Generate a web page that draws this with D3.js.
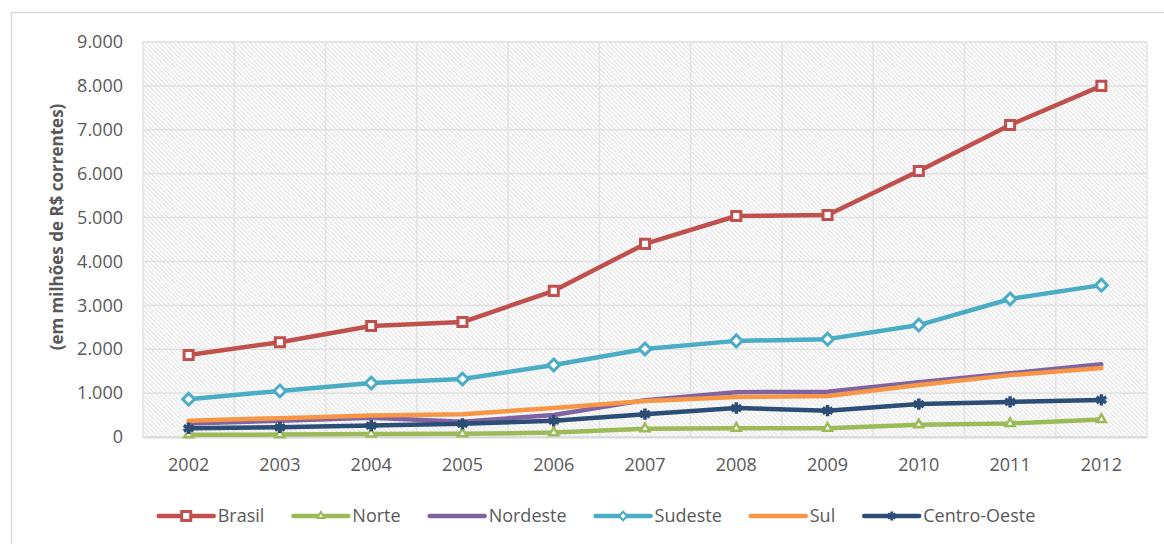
<!doctype html>
<html lang="pt">
<head>
  <meta charset="utf-8">
  <title>Valores por região, 2002-2012</title>
  <script src="https://d3js.org/d3.v7.min.js"></script>
<style>
body {
  margin: 0;
  background: #fff;
}
svg text {
  font-family: "Open Sans", "Liberation Sans", sans-serif;
  fill: #595959;
}
</style>
</head>
<body>
<div class="chart"></div>

<script>
  // values (em milhões de R$ correntes)
  const years = ['2002', '2003', '2004', '2005', '2006', '2007', '2008', '2009', '2010', '2011', '2012'];
  const brasil = [1870, 2160, 2530, 2620, 3330, 4400, 5035, 5060, 6060, 7110, 8000];
  const norte = [50, 55, 70, 75, 100, 190, 200, 200, 280, 310, 400];
  const nordeste = [310, 370, 440, 350, 500, 840, 1020, 1030, 1250, 1450, 1660];
  const sudeste = [860, 1050, 1230, 1320, 1640, 2005, 2190, 2230, 2550, 3145, 3460];
  const sul = [370, 430, 490, 520, 660, 820, 910, 935, 1185, 1410, 1570];
  const centroOeste = [200, 220, 260, 300, 370, 520, 660, 600, 750, 800, 845];
  const yTicks = [0, 1000, 2000, 3000, 4000, 5000, 6000, 7000, 8000, 9000];

  const seriesNames = ['Brasil', 'Norte', 'Nordeste', 'Sudeste', 'Sul', 'Centro-Oeste'];
  const seriesValues = [brasil, norte, nordeste, sudeste, sul, centroOeste];
  const seriesColors = ['#C0504D', '#9BBB59', '#8064A2', '#4BACC6', '#F79646', '#2C4D75'];
  const seriesMarkers = ['square', 'triangle', null, 'diamond', null, 'star'];

  const w = 1164, h = 544;
  const plot = {left: 143, right: 1147, top: 42, bottom: 437};

  let svg = d3.select('.chart').append('svg')
    .attr('width', w)
    .attr('height', h);

  // outer chart frame (runs off the bottom/right of the picture)
  svg.append('rect')
    .attr('x', 11.5).attr('y', 12.5)
    .attr('width', 1160).attr('height', 540)
    .attr('fill', 'none')
    .attr('stroke', '#D9D9D9')
    .attr('stroke-width', 1.5);

  // light diagonal hatch for the plot area
  let pattern = svg.append('defs').append('pattern')
    .attr('id', 'hatch')
    .attr('patternUnits', 'userSpaceOnUse')
    .attr('width', 4.5).attr('height', 4.5);
  pattern.append('rect').attr('width', 4.5).attr('height', 4.5).attr('fill', '#fff');
  pattern.append('path')
    .attr('d', 'M-1,-1 L5.5,5.5 M-1,3.5 L1,5.5 M3.5,-1 L5.5,1')
    .attr('stroke', '#DEDEDE')
    .attr('stroke-width', 1);

  let x = d3.scaleBand()
    .domain(years)
    .range([plot.left, plot.right])
    .padding(0);

  let y = d3.scaleLinear()
    .domain([0, 9000])
    .range([plot.bottom, plot.top]);

  let cx = d => x(d) + x.bandwidth() / 2;

  svg.append('rect')
    .attr('x', plot.left).attr('y', plot.top)
    .attr('width', plot.right - plot.left)
    .attr('height', plot.bottom - plot.top)
    .attr('fill', 'url(#hatch)')
    .attr('stroke', '#E3E3E3')
    .attr('stroke-width', 1.5);

  // gridlines
  let grid = svg.append('g').attr('stroke', '#E3E3E3').attr('stroke-width', 1.6);
  grid.selectAll('line.h')
    .data(yTicks)
    .enter()
    .append('line')
    .attr('class', 'h')
    .attr('x1', plot.left).attr('x2', plot.right)
    .attr('y1', d => y(d)).attr('y2', d => y(d));
  grid.selectAll('line.v')
    .data(years.slice(1))
    .enter()
    .append('line')
    .attr('class', 'v')
    .attr('x1', d => x(d)).attr('x2', d => x(d))
    .attr('y1', plot.top).attr('y2', plot.bottom);

  // y axis (labels only)
  let yAxis = svg.append('g')
    .attr('transform', 'translate(' + plot.left + ',0)')
    .call(d3.axisLeft(y)
      .tickValues(yTicks)
      .tickSize(0)
      .tickPadding(20)
      .tickFormat(d => d3.format(',')(d).replace(/,/g, '.')));
  yAxis.select('.domain').remove();
  yAxis.selectAll('text')
    .style('font-size', '18px')
    .attr('fill', '#595959');

  // x axis
  let xAxis = svg.append('g')
    .attr('transform', 'translate(0,' + plot.bottom + ')')
    .call(d3.axisBottom(x).tickSize(0).tickPadding(21));
  xAxis.select('.domain')
    .attr('stroke', '#D9D9D9')
    .attr('stroke-width', 2);
  xAxis.selectAll('text')
    .style('font-size', '18px')
    .attr('fill', '#595959');

  // y axis title
  svg.append('text')
    .attr('transform', 'translate(63,227) rotate(-90)')
    .attr('text-anchor', 'middle')
    .style('font-size', '17px')
    .style('font-weight', 'bold')
    .text('(em milhões de R$ correntes)');

  function marker(type) {
    if (type === 'square') return d3.symbol(d3.symbolSquare, 82)();
    if (type === 'diamond') return d3.symbol(d3.symbolSquare, 70)();
    if (type === 'triangle') return d3.symbol(d3.symbolTriangle, 34)();
    if (type === 'star') return d3.symbol(d3.symbolAsterisk, 90)();
    return null;
  }

  function drawMarker(sel, type, color) {
    return sel.append('path')
      .attr('d', marker(type))
      .attr('stroke', color)
      .attr('fill', type === 'star' ? color : '#fff')
      .attr('stroke-width', type === 'star' ? 3.5 : (type === 'triangle' ? 2.5 : 3));
  }

  let line = d3.line()
    .x((d, i) => cx(years[i]))
    .y(d => y(d));

  seriesValues.forEach(function(vals, k) {
    let g = svg.append('g');
    g.append('path')
      .attr('d', line(vals))
      .attr('fill', 'none')
      .attr('stroke', seriesColors[k])
      .attr('stroke-width', 4.5)
      .attr('stroke-linejoin', 'round')
      .attr('stroke-linecap', 'round');
    if (seriesMarkers[k]) {
      vals.forEach(function(v, i) {
        let mg = g.append('g')
          .attr('transform', 'translate(' + cx(years[i]) + ',' + y(v) + ')');
        let m = drawMarker(mg, seriesMarkers[k], seriesColors[k]);
        if (seriesMarkers[k] === 'diamond') m.attr('transform', 'rotate(45)');
      });
    }
  });

  // legend, centred like the original
  let legend = svg.append('g');
  let legendY = 516;
  let items = legend.selectAll('g')
    .data(seriesNames)
    .enter()
    .append('g');
  items.append('text')
    .attr('x', 59)
    .attr('y', 0)
    .attr('dy', '0.35em')
    .style('font-size', '18px')
    .text(d => d);

  let pos = 0;
  items.each(function(d, k) {
    let item = d3.select(this);
    let tw = item.select('text').node().getComputedTextLength();
    item.attr('transform', 'translate(' + pos + ',' + legendY + ')');
    item.append('line')
      .attr('x1', 0).attr('x2', 55)
      .attr('y1', 0).attr('y2', 0)
      .attr('stroke', seriesColors[k])
      .attr('stroke-width', 4.5)
      .attr('stroke-linecap', 'round');
    if (seriesMarkers[k]) {
      let mg = item.append('g').attr('transform', 'translate(27.5,0)');
      let m = drawMarker(mg, seriesMarkers[k], seriesColors[k]);
      if (seriesMarkers[k] === 'diamond') m.attr('transform', 'rotate(45) scale(0.7)');
      if (seriesMarkers[k] === 'triangle') m.attr('transform', 'scale(0.8)');
      if (seriesMarkers[k] === 'star') m.attr('transform', 'scale(0.8)');
    }
    pos += 59 + tw + 29;
  });
  let total = pos - 29;
  legend.attr('transform', 'translate(' + (597 - total / 2) + ',0)');
</script>
</body>
</html>
